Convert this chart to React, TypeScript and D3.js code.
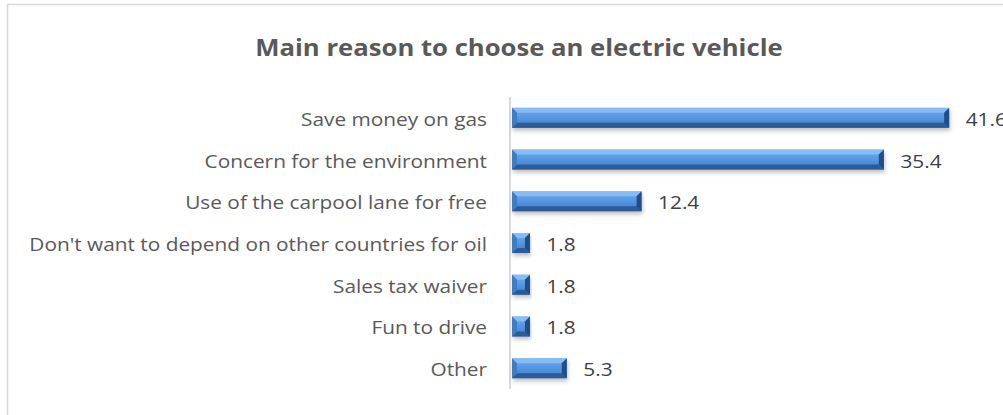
import React from "react";
import * as d3 from "d3";

const title = "Main reason to choose an electric vehicle";
const categories = [
  "Save money on gas",
  "Concern for the environment",
  "Use of the carpool lane for free",
  "Don't want to depend on other countries for oil",
  "Sales tax waiver",
  "Fun to drive",
  "Other",
];
const values = [41.6, 35.4, 12.4, 1.8, 1.8, 1.8, 5.3];

const W = 1003;
const H = 415;
const FONT = "'Open Sans', 'Liberation Sans', sans-serif";
const SX = 1.19;
const TSX = 1.07;

export default function App() {
  const x = d3.scaleLinear().domain([0, 45]).range([511, 985]);
  const y = d3
    .scaleBand<string>()
    .domain(categories)
    .range([97, 389])
    .paddingInner(0.52)
    .paddingOuter(0.26);
  const bw = y.bandwidth();
  const bev = 5;

  return (
    <svg
      width={W}
      height={H}
      style={{ position: "absolute", left: 0, top: 0, background: "#fff" }}
    >
      <defs>
        <linearGradient id="face" x1="0" y1="0" x2="0" y2="1">
          <stop offset="0" stopColor="#6fadf0" />
          <stop offset="0.45" stopColor="#5898e2" />
          <stop offset="1" stopColor="#3f7cc8" />
        </linearGradient>
        <filter id="shadow" x="-10%" y="-50%" width="120%" height="200%">
          <feGaussianBlur in="SourceAlpha" stdDeviation="2" />
          <feOffset dx="1" dy="3" result="b" />
          <feComponentTransfer>
            <feFuncA type="linear" slope="0.25" />
          </feComponentTransfer>
          <feMerge>
            <feMergeNode />
            <feMergeNode in="SourceGraphic" />
          </feMerge>
        </filter>
      </defs>
      <rect x={7.5} y={4.5} width={1100} height={500} fill="none" stroke="#d9d9d9" strokeWidth={1.5} />
      <text
        transform={`translate(519,56) scale(${TSX},1)`}
        textAnchor="middle"
        fontFamily={FONT}
        fontWeight="bold"
        fontSize={24}
        fill="#595959"
      >
        {title}
      </text>
      <line x1={510} x2={510} y1={97} y2={389} stroke="#d9d9d9" strokeWidth={2} />
      {categories.map((c, i) => {
        const y0 = y(c)!;
        const x0 = x(0) + 1;
        const x1 = x(values[i]);
        const w = x1 - x0;
        const b = Math.min(bev, w / 2);
        const cy = y0 + bw / 2;
        return (
          <g key={c}>
            <g filter="url(#shadow)">
              <rect x={x0} y={y0} width={w} height={bw} fill="url(#face)" />
            </g>
            <polygon
              points={`${x0},${y0} ${x1},${y0} ${x1 - b},${y0 + b} ${x0 + b},${y0 + b}`}
              fill="#8cc0f5"
              opacity={0.85}
            />
            <polygon
              points={`${x0},${y0 + bw} ${x1},${y0 + bw} ${x1 - b},${y0 + bw - b} ${x0 + b},${y0 + bw - b}`}
              fill="#2c5c98"
            />
            <polygon
              points={`${x0},${y0} ${x0 + b},${y0 + b} ${x0 + b},${y0 + bw - b} ${x0},${y0 + bw}`}
              fill="#3f7cc6"
            />
            <polygon
              points={`${x1},${y0} ${x1 - b},${y0 + b} ${x1 - b},${y0 + bw - b} ${x1},${y0 + bw}`}
              fill="#1f4d86"
            />
            <text
              transform={`translate(487,${cy + 8}) scale(${SX},1)`}
              textAnchor="end"
              fontFamily={FONT}
              fontSize={17.5}
              fill="#595959"
            >
              {c}
            </text>
            <text
              transform={`translate(${x1 + 16.5},${cy + 8}) scale(${SX},1)`}
              fontFamily={FONT}
              fontSize={17.5}
              fill="#404040"
            >
              {d3.format(".1f")(values[i])}
            </text>
          </g>
        );
      })}
    </svg>
  );
}
